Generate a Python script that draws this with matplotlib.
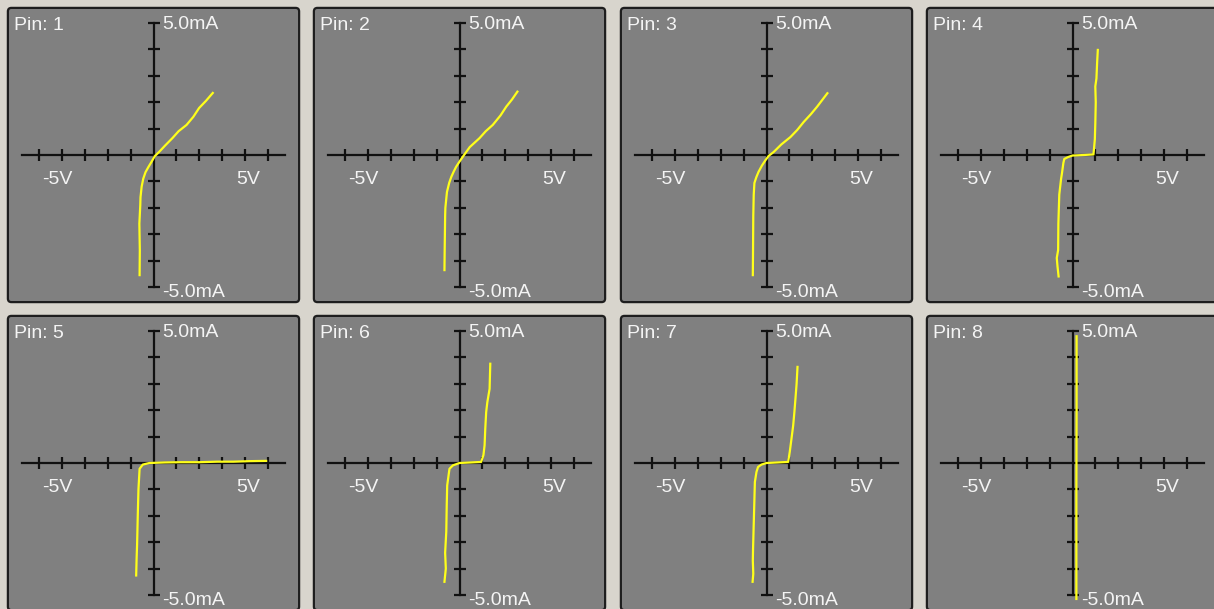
import matplotlib
matplotlib.use("Agg")
import matplotlib.pyplot as plt
from matplotlib.patches import FancyBboxPatch

# curve tracer readings per pin: voltage (V) and current (mA)
pins = [1, 2, 3, 4, 5, 6, 7, 8]

v1 = [-0.61, -0.60, -0.62, -0.58, -0.57, -0.52, -0.45, -0.35, -0.22, -0.08, 0.05, 0.25, 0.50, 0.83, 1.10, 1.45, 1.75, 2.00, 2.30, 2.60]
i1 = [-4.55, -3.60, -2.60, -1.90, -1.60, -1.20, -0.90, -0.65, -0.45, -0.25, -0.05, 0.12, 0.35, 0.64, 0.90, 1.14, 1.45, 1.78, 2.05, 2.35]

v2 = [-0.66, -0.65, -0.63, -0.62, -0.55, -0.45, -0.36, -0.25, -0.15, 0.00, 0.15, 0.45, 0.88, 1.15, 1.46, 1.80, 2.05, 2.30, 2.54]
i2 = [-4.36, -3.60, -2.30, -2.00, -1.40, -1.05, -0.83, -0.62, -0.45, -0.25, -0.06, 0.30, 0.64, 0.90, 1.14, 1.50, 1.83, 2.10, 2.40]

v3 = [-0.60, -0.59, -0.58, -0.56, -0.53, -0.45, -0.35, -0.20, -0.04, 0.10, 0.31, 0.65, 1.05, 1.35, 1.63, 1.95, 2.22, 2.67]
i3 = [-4.55, -3.50, -2.30, -1.50, -1.06, -0.85, -0.64, -0.40, -0.19, -0.03, 0.11, 0.40, 0.68, 0.95, 1.25, 1.55, 1.83, 2.34]

v4 = [-0.61, -0.66, -0.69, -0.63, -0.62, -0.58, -0.50, -0.46, -0.40, -0.36, -0.20, 0.00, 0.50, 0.92, 0.98, 1.00, 1.02, 1.00, 1.05, 1.08, 1.11]
i4 = [-4.60, -4.20, -3.90, -3.60, -2.60, -1.50, -0.90, -0.68, -0.30, -0.15, -0.08, -0.02, 0.00, 0.02, 0.60, 1.20, 2.00, 2.60, 2.90, 3.50, 3.98]

v5 = [-0.76, -0.74, -0.72, -0.69, -0.66, -0.61, -0.47, -0.18, 0.50, 1.20, 2.00, 2.80, 3.50, 4.20, 4.94]
i5 = [-4.26, -3.60, -3.10, -1.98, -1.00, -0.22, -0.06, 0.00, 0.02, 0.03, 0.03, 0.05, 0.05, 0.07, 0.08]

v6 = [-0.66, -0.60, -0.63, -0.58, -0.56, -0.54, -0.44, -0.29, 0.00, 0.50, 0.95, 1.05, 1.10, 1.13, 1.17, 1.22, 1.32, 1.35]
i6 = [-4.50, -4.00, -3.40, -2.60, -1.60, -0.85, -0.22, -0.09, 0.00, 0.02, 0.04, 0.30, 0.67, 1.30, 1.93, 2.30, 2.81, 3.76]

v7 = [-0.61, -0.58, -0.60, -0.59, -0.55, -0.51, -0.44, -0.37, -0.22, 0.00, 0.50, 0.95, 1.02, 1.10, 1.17, 1.22, 1.27, 1.32, 1.36]
i7 = [-4.50, -4.20, -3.70, -3.25, -2.00, -0.72, -0.34, -0.15, -0.06, 0.00, 0.02, 0.04, 0.42, 0.95, 1.42, 1.90, 2.44, 3.00, 3.64]

v8 = [0.17, 0.17, 0.18, 0.18]
i8 = [-5.15, -1.00, 2.00, 4.80]

volts = [v1, v2, v3, v4, v5, v6, v7, v8]
amps = [i1, i2, i3, i4, i5, i6, i7, i8]

x_ticks = [-5, -4, -3, -2, -1, 1, 2, 3, 4, 5]
y_ticks = [-5, -4, -3, -2, -1, 1, 2, 3, 4, 5]

W, H = 1214, 609
fig = plt.figure(figsize=(W / 100, H / 100), dpi=100)
fig.patch.set_facecolor('#d8d5cd')

col_left = [7, 313, 620, 926]
row_top = [7, 315]
pw, ph = 293, 296
font = ['Liberation Sans', 'DejaVu Sans']
txt = '#f4f4f4'

for n, (pin, v, i) in enumerate(zip(pins, volts, amps)):
    r, c = divmod(n, 4)
    ax = fig.add_axes([col_left[c] / W, 1 - (row_top[r] + ph) / H, pw / W, ph / H])
    ax.set_facecolor('none')
    ax.set_xlim(-6.425, 6.425)
    ax.set_ylim(-5.606, 5.606)

    # panel body with dark frame
    box = FancyBboxPatch((0.003, 0.003), 0.994, 0.994, boxstyle='round,pad=0,rounding_size=0.012',
                         transform=ax.transAxes, facecolor='#808080', edgecolor='#1e1e1e',
                         lw=1.6, zorder=0, clip_on=False)
    ax.add_patch(box)

    # crosshair axes through the origin
    for s in ['top', 'right']:
        ax.spines[s].set_visible(False)
    ax.spines['left'].set_position(('data', 0))
    ax.spines['bottom'].set_position(('data', 0))
    ax.spines['left'].set_bounds(-5, 5)
    ax.spines['bottom'].set_bounds(-5.75, 5.75)
    for s in ['left', 'bottom']:
        ax.spines[s].set_color('#111111')
        ax.spines[s].set_linewidth(1.6)
        ax.spines[s].set_zorder(1)
    ax.set_xticks(x_ticks)
    ax.set_yticks(y_ticks)
    ax.set_xticklabels([])
    ax.set_yticklabels([])
    ax.tick_params(direction='inout', length=8, width=1.6, color='#111111')

    ax.plot(v, i, color='#ffff1a', lw=1.6, zorder=3, clip_on=False)

    ax.text(0.024, 0.936, f'Pin: {pin}', transform=ax.transAxes, color=txt,
            fontsize=14, family=font, va='center', ha='left')
    ax.text(0.39, 4.95, '5.0mA', color=txt, fontsize=14, family=font, va='center', ha='left')
    ax.text(0.39, -5.21, '-5.0mA', color=txt, fontsize=14, family=font, va='center', ha='left')
    ax.text(-4.87, -0.93, '-5V', color=txt, fontsize=14, family=font, va='center', ha='left')
    ax.text(4.69, -0.93, '5V', color=txt, fontsize=14, family=font, va='center', ha='right')

fig.savefig('out.png', dpi=100, facecolor=fig.get_facecolor())
